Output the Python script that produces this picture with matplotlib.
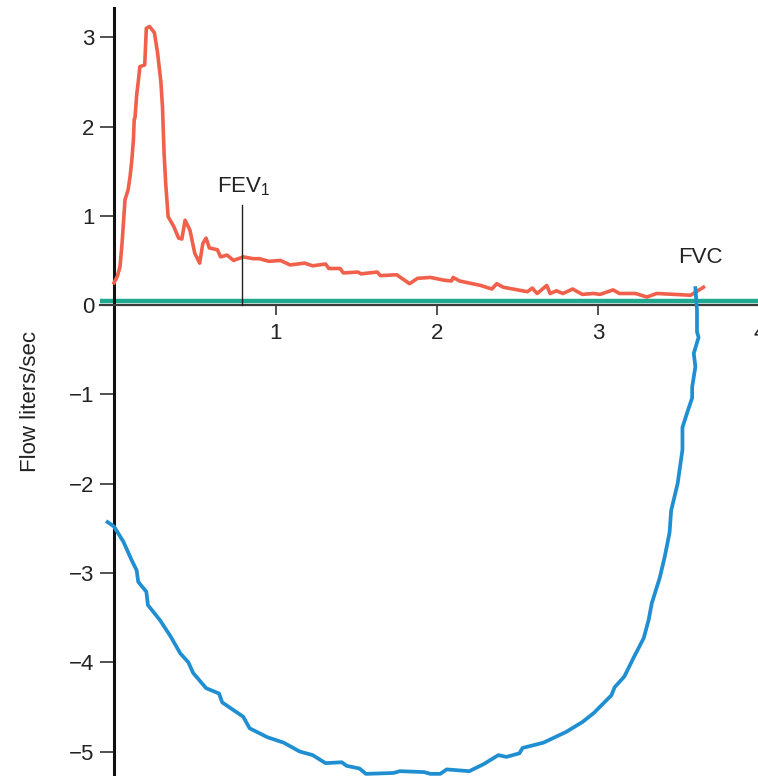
import matplotlib
matplotlib.use("Agg")
import matplotlib.pyplot as plt

plt.rcParams['font.family'] = ['Liberation Sans', 'DejaVu Sans']

# expiration limb (flow > 0), volume in liters
red_x = [0.0, 0.02, 0.037, 0.05, 0.068, 0.087, 0.10, 0.11, 0.12, 0.125, 0.13, 0.14, 0.15,
         0.16, 0.19, 0.20, 0.22, 0.25, 0.27, 0.29, 0.30, 0.31, 0.32, 0.335, 0.37, 0.40,
         0.42, 0.44, 0.47, 0.50, 0.53, 0.55, 0.57, 0.59, 0.64, 0.66, 0.70, 0.74, 0.80,
         0.86, 0.90, 0.96, 1.03, 1.09, 1.18, 1.23, 1.31, 1.33, 1.40, 1.42, 1.51, 1.53,
         1.63, 1.65, 1.75, 1.83, 1.88, 1.96, 2.04, 2.09, 2.10, 2.14, 2.27, 2.34, 2.37,
         2.41, 2.56, 2.59, 2.62, 2.68, 2.70, 2.74, 2.78, 2.84, 2.90, 2.97, 3.01, 3.09,
         3.13, 3.23, 3.30, 3.36, 3.47, 3.57, 3.65]
red_y = [0.25, 0.32, 0.43, 0.70, 1.18, 1.29, 1.45, 1.62, 1.85, 2.08, 2.10, 2.35, 2.50,
         2.67, 2.69, 3.10, 3.12, 3.05, 2.82, 2.50, 2.22, 1.70, 1.36, 0.99, 0.88, 0.75,
         0.74, 0.95, 0.84, 0.58, 0.47, 0.69, 0.75, 0.64, 0.62, 0.54, 0.56, 0.50, 0.54,
         0.52, 0.52, 0.49, 0.50, 0.45, 0.47, 0.44, 0.46, 0.41, 0.41, 0.36, 0.37, 0.35,
         0.37, 0.33, 0.34, 0.24, 0.30, 0.31, 0.28, 0.27, 0.31, 0.27, 0.22, 0.18, 0.24,
         0.20, 0.15, 0.19, 0.13, 0.22, 0.13, 0.16, 0.13, 0.18, 0.12, 0.13, 0.12, 0.17,
         0.13, 0.13, 0.09, 0.13, 0.12, 0.11, 0.20]

# inspiration limb (flow < 0)
blue_x = [-0.04, 0.0, 0.058, 0.11, 0.14, 0.15, 0.20, 0.21, 0.285, 0.35, 0.41, 0.46, 0.49,
          0.57, 0.65, 0.67, 0.80, 0.84, 0.95, 1.05, 1.15, 1.23, 1.31, 1.41, 1.44, 1.52,
          1.56, 1.73, 1.77, 1.92, 1.96, 2.02, 2.06, 2.20, 2.29, 2.38, 2.43, 2.51, 2.53,
          2.66, 2.80, 2.90, 2.97, 3.08, 3.10, 3.16, 3.22, 3.28, 3.31, 3.33, 3.38, 3.41,
          3.44, 3.45, 3.49, 3.52, 3.52, 3.55, 3.58, 3.58, 3.60, 3.59, 3.62, 3.61, 3.61, 3.60]
blue_y = [-2.43, -2.48, -2.65, -2.86, -2.97, -3.10, -3.21, -3.36, -3.53, -3.71, -3.90,
          -4.0, -4.12, -4.29, -4.35, -4.45, -4.61, -4.74, -4.84, -4.90, -5.0, -5.04,
          -5.13, -5.12, -5.16, -5.19, -5.25, -5.24, -5.22, -5.23, -5.25, -5.25, -5.2,
          -5.22, -5.14, -5.04, -5.06, -5.02, -4.96, -4.90, -4.78, -4.67, -4.57, -4.37,
          -4.28, -4.16, -3.94, -3.73, -3.53, -3.34, -3.05, -2.82, -2.55, -2.30, -2.0,
          -1.62, -1.37, -1.20, -1.04, -0.92, -0.69, -0.54, -0.36, -0.30, -0.06, 0.19]

baseline_flow = 0.05
fev1_volume = 0.79
fev1_top = 1.12
x_ticks = [1, 2, 3, 4]
y_ticks = [-5, -4, -3, -2, -1, 0, 1, 2, 3]

fig = plt.figure(figsize=(7.58, 7.76), dpi=100)
ax = fig.add_axes([0.1319, -0.003, 0.892, 0.993])
ax.set_xlim(-0.087, 4.1)
ax.set_ylim(-5.3, 3.33)

ax.axhline(baseline_flow, color='#1fa98f', lw=3.2, zorder=2)
ax.plot(red_x, red_y, color='#f0604a', lw=2.6, zorder=3)
ax.plot(blue_x, blue_y, color='#1f8fd2', lw=2.7, zorder=4)
ax.plot([fev1_volume, fev1_volume], [0, fev1_top], color='#222222', lw=1.0, zorder=3)

ax.text(0.80, 1.2, 'FEV$_\\mathregular{1}$', ha='center', va='bottom', fontsize=16, color='#222222')
ax.text(3.63, 0.41, 'FVC', ha='center', va='bottom', fontsize=16, color='#222222')

for s in ['top', 'right']:
    ax.spines[s].set_visible(False)
ax.spines['left'].set_position(('data', 0))
ax.spines['bottom'].set_position(('data', 0))
ax.spines['left'].set_linewidth(2.2)
ax.spines['left'].set_color('#111111')
ax.spines['bottom'].set_linewidth(1.6)
ax.spines['bottom'].set_color('#3a3a3a')

ax.set_xticks(x_ticks)
ax.set_yticks(y_ticks)
ax.tick_params(axis='y', direction='out', length=10, width=1.2, color='#333333',
               labelsize=16, labelcolor='#222222', pad=4)
ax.tick_params(axis='x', direction='out', length=7, width=1.2, color='#333333',
               labelsize=16, labelcolor='#222222', pad=6)

fig.text(30 / 758, 1 - 401 / 776, 'Flow liters/sec', rotation=90, ha='center', va='center',
         fontsize=16, color='#222222')

fig.savefig('out.png', dpi=100)
